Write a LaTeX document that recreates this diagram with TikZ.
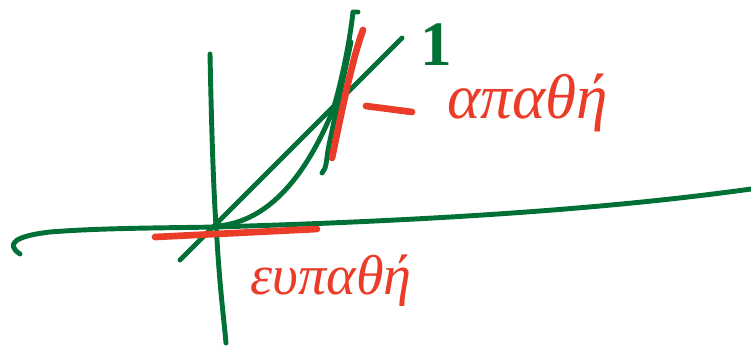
\documentclass[tikz,border=0pt]{standalone}
\usepackage{fontspec}
\setmainfont{Liberation Serif}
\usetikzlibrary{positioning}
\definecolor{penGreen}{RGB}{0,112,54}
\definecolor{penRed}{RGB}{234,60,40}

\begin{document}
\begin{tikzpicture}[
    x=0.02cm, y=-0.02cm,
    greenpen/.style={draw=penGreen, line width=2.8pt, line cap=round, line join=round},
    redpen/.style={draw=penRed, line width=3.8pt, line cap=round},
    note/.style={text=penRed, inner sep=0pt, font=\itshape\fontsize{36}{36}\selectfont}
]
\useasboundingbox (0,0) rectangle (751,346);

% axes
\draw[greenpen] (20,254) .. controls (5,244) and (15,236) .. (50,232) .. controls (100,228) and (160,228) .. (216,227) .. controls (420,221) and (600,210) .. (751,189);
\draw[greenpen] (210,54) .. controls (212,150) and (214,200) .. (217,240) .. controls (220,290) and (224,320) .. (226,343);

% y = x and the curve
\draw[greenpen] (180,260) -- (402,38);
\draw[greenpen] (218,226) .. controls (260,222) and (300,190) .. (333,110) .. controls (342,80) and (350,40) .. (353,12) -- (358,12);
\draw[greenpen] (322,173) .. controls (327,168) and (326,160) .. (329,145) -- (351,42);
\node[text=penGreen, inner sep=0pt, font=\bfseries\fontsize{36}{36}\selectfont] (slopeOne) at (436,45) {1};

% tangents
\draw[redpen] (155,237) -- (317,229);
\draw[redpen] (332,158) .. controls (342,110) and (352,60) .. (363,30);
\draw[redpen] (366,106) -- (412,112);

% labels
\node[note] (upperLbl) at (528,103) {απαθή};
\node[note, font=\itshape\fontsize{32}{32}\selectfont] (lowerLbl) at (331,281) {ευπαθή};
\end{tikzpicture}
\end{document}
